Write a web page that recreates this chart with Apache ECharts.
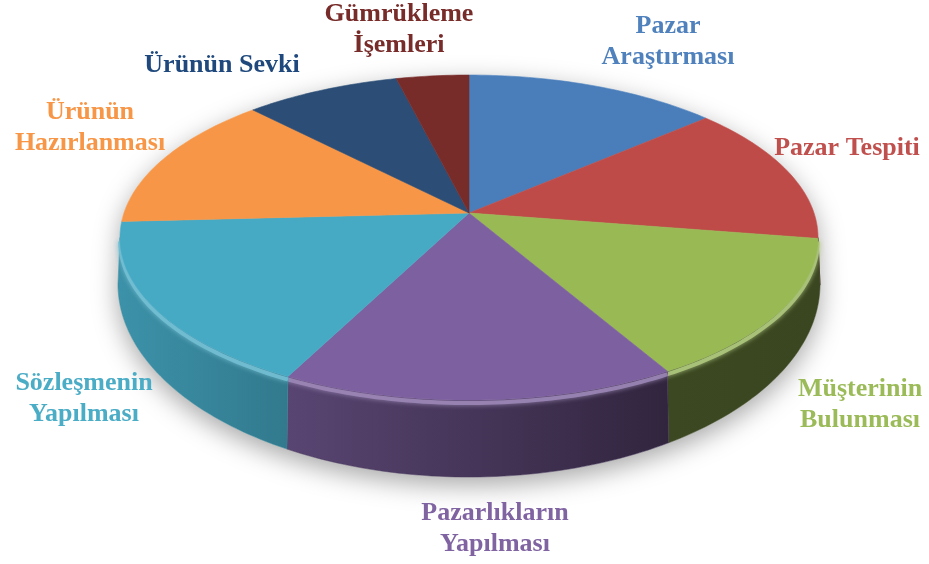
<!DOCTYPE html>
<html>
<head>
<meta charset="utf-8">
<script src="https://cdn.jsdelivr.net/npm/echarts@6/dist/echarts.min.js"></script>
<style>
  html, body { margin: 0; background: #fff; }
  #main { width: 929px; height: 564px; }
</style>
</head>
<body>
<div id="main"></div>
<script>
// aşamalar (dilimler)
var stages = ['Pazar\nAraştırması', 'Pazar Tespiti', 'Müşterinin\nBulunması', 'Pazarlıkların\nYapılması',
  'Sözleşmenin\nYapılması', 'Ürünün\nHazırlanması', 'Ürünün Sevki', 'Gümrükleme\nİşemleri'];
// dilim payları
var shares = [49, 50, 51, 57, 60, 49, 30, 14];

var colors = ['#4a7ebb', '#be4b48', '#98b954', '#7d60a0', '#46aac5', '#f79646', '#2c4d75', '#772c2a'];
var labelColors = ['#4f81bd', '#c0504d', '#9bbb59', '#8064a2', '#4bacc6', '#f79646', '#1f497d', '#772c2a'];
// etiket merkezleri (px)
var labelPos = [[668, 42], [847, 148], [860, 405], [495, 529], [84, 399], [90, 128], [222, 65], [399, 30]];

// perspektif: üst yüz ve alt kenar
var CX = 469, K = 0.151;
var TOP = { cy: 213, a: 345, b: 158.8 };
var BOT = { cy: 255, a: 347, b: 188.5 };
var T0 = Math.acos(-K), T1 = Math.PI * 2 - Math.acos(-K);   // görünen yan sınırları

var total = shares.reduce(function (s, v) { return s + v; }, 0);

function angles(i) {
  var s = 0;
  for (var j = 0; j < i; j++) s += shares[j];
  return [s / total * Math.PI * 2, (s + shares[i]) / total * Math.PI * 2];
}

function pt(t, e) {
  var u = Math.sin(t), v = Math.cos(t), w = 1 + K * v;
  return [CX + e.a * u / w, e.cy - e.b * v / w];
}

function arc(t0, t1, e, off) {
  var n = Math.max(2, Math.ceil((t1 - t0) / 0.02));
  var pts = [];
  for (var j = 0; j <= n; j++) {
    var p = pt(t0 + (t1 - t0) * j / n, e);
    pts.push([p[0], p[1] + (off || 0)]);
  }
  return pts;
}

function shade(hex, f) {
  var n = parseInt(hex.slice(1), 16);
  var c = [(n >> 16) & 255, (n >> 8) & 255, n & 255].map(function (x) { return Math.min(255, Math.round(x * f)); });
  return 'rgb(' + c.join(',') + ')';
}

function lighten(hex, f) {
  var n = parseInt(hex.slice(1), 16);
  var c = [(n >> 16) & 255, (n >> 8) & 255, n & 255].map(function (x) { return Math.round(x + (255 - x) * f); });
  return 'rgb(' + c.join(',') + ')';
}

function sideK(x) {
  var t = Math.min(1, Math.max(0, (x - 118) / 560));
  return 0.86 - 0.48 * t;
}

function renderSide(params, api) {
  var i = params.dataIndex;
  var a = angles(i);
  var children = [];
  if (i === 0) {
    var hull = arc(T1 - Math.PI * 2, T0, TOP).concat(arc(T0, T1, BOT));
    children.push({
      type: 'polygon', shape: { points: hull },
      style: { fill: '#fff', shadowBlur: 26, shadowOffsetY: 8, shadowColor: 'rgba(0,0,0,0.35)' }
    });
  }
  var s0 = Math.max(a[0], T0), s1 = Math.min(a[1], T1);
  if (s1 > s0) {
    var top = arc(s0, s1, TOP);
    var bot = arc(s0, s1, BOT).reverse();
    var xs = top.concat(bot).map(function (p) { return p[0]; });
    var x0 = Math.min.apply(null, xs), x1 = Math.max.apply(null, xs);
    children.push({
      type: 'polygon', shape: { points: top.concat(bot) },
      style: {
        fill: new echarts.graphic.LinearGradient(0, 0, 1, 0, [
          { offset: 0, color: shade(colors[i], sideK(x0)) },
          { offset: 1, color: shade(colors[i], sideK(x1)) }
        ]),
        stroke: shade(colors[i], sideK((x0 + x1) / 2)), lineWidth: 0.5
      }
    });
  }
  // kenar parlaması
  var h0 = Math.max(a[0], Math.PI * 0.55), h1 = Math.min(a[1], Math.PI * 1.45);
  if (h1 > h0) {
    children.push({
      type: 'polyline', shape: { points: arc(h0, h1, TOP, 3) },
      style: { stroke: lighten(colors[i], 0.25), lineWidth: 4, fill: null, opacity: 0.85,
        shadowBlur: 5, shadowColor: lighten(colors[i], 0.3) }
    });
  }
  return { type: 'group', children: children };
}

function renderTop(params, api) {
  var i = params.dataIndex;
  var a = angles(i);
  var pts = [[CX, TOP.cy]].concat(arc(a[0], a[1], TOP));
  return {
    type: 'group',
    children: [{
      type: 'polygon', shape: { points: pts },
      style: { fill: colors[i], stroke: colors[i], lineWidth: 0.6 }
    }, {
      type: 'text',
      style: {
        text: stages[i], x: labelPos[i][0], y: labelPos[i][1],
        fill: labelColors[i], font: 'bold 26px "Liberation Serif"',
        align: 'center', verticalAlign: 'middle', lineHeight: 31
      }
    }]
  };
}

var myChart = echarts.init(document.getElementById('main'));
myChart.setOption({
  animation: false,
  series: [
    { type: 'custom', coordinateSystem: 'none', silent: true, z: 1, renderItem: renderSide, data: shares },
    { type: 'custom', coordinateSystem: 'none', silent: true, z: 2, renderItem: renderTop, data: shares }
  ]
});
</script>
</body>
</html>
